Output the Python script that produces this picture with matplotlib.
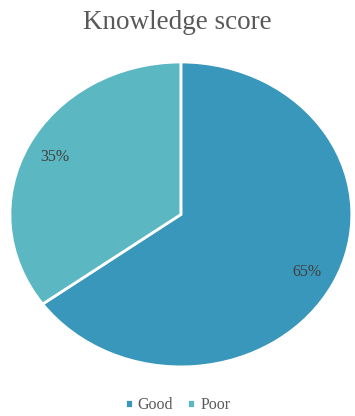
import matplotlib.pyplot as plt

labels = ["Good", "Poor"]
values = [65, 35]
colors = ["#3A97BC", "#5BB8C2"]

plt.rcParams['font.family'] = ['Liberation Serif', 'DejaVu Serif']

fig = plt.figure(figsize=(3.55, 4.16), dpi=100)
ax = fig.add_axes([0.028, 0.118, 0.963, 0.733])

wedges, texts, autotexts = ax.pie(values, colors=colors, startangle=90, counterclock=False,
                                  autopct='%1.0f%%', pctdistance=0.83,
                                  wedgeprops=dict(edgecolor='white', linewidth=2),
                                  textprops=dict(color='#404040', fontsize=11.5))
ax.set_aspect('auto')
ax.set_xlim(-1, 1)
ax.set_ylim(-1, 1)
ax.axis('off')

fig.text(0.5, 0.945, "Knowledge score", ha='center', va='center', fontsize=19.5, color='#595959')

fig.legend(wedges, labels, loc='center', bbox_to_anchor=(0.5, 0.026), ncol=2, frameon=False,
           handlelength=0.5, handleheight=0.5, handletextpad=0.3, columnspacing=0.9,
           fontsize=11.5, labelcolor='#595959')

fig.savefig("out.png", dpi=100)
